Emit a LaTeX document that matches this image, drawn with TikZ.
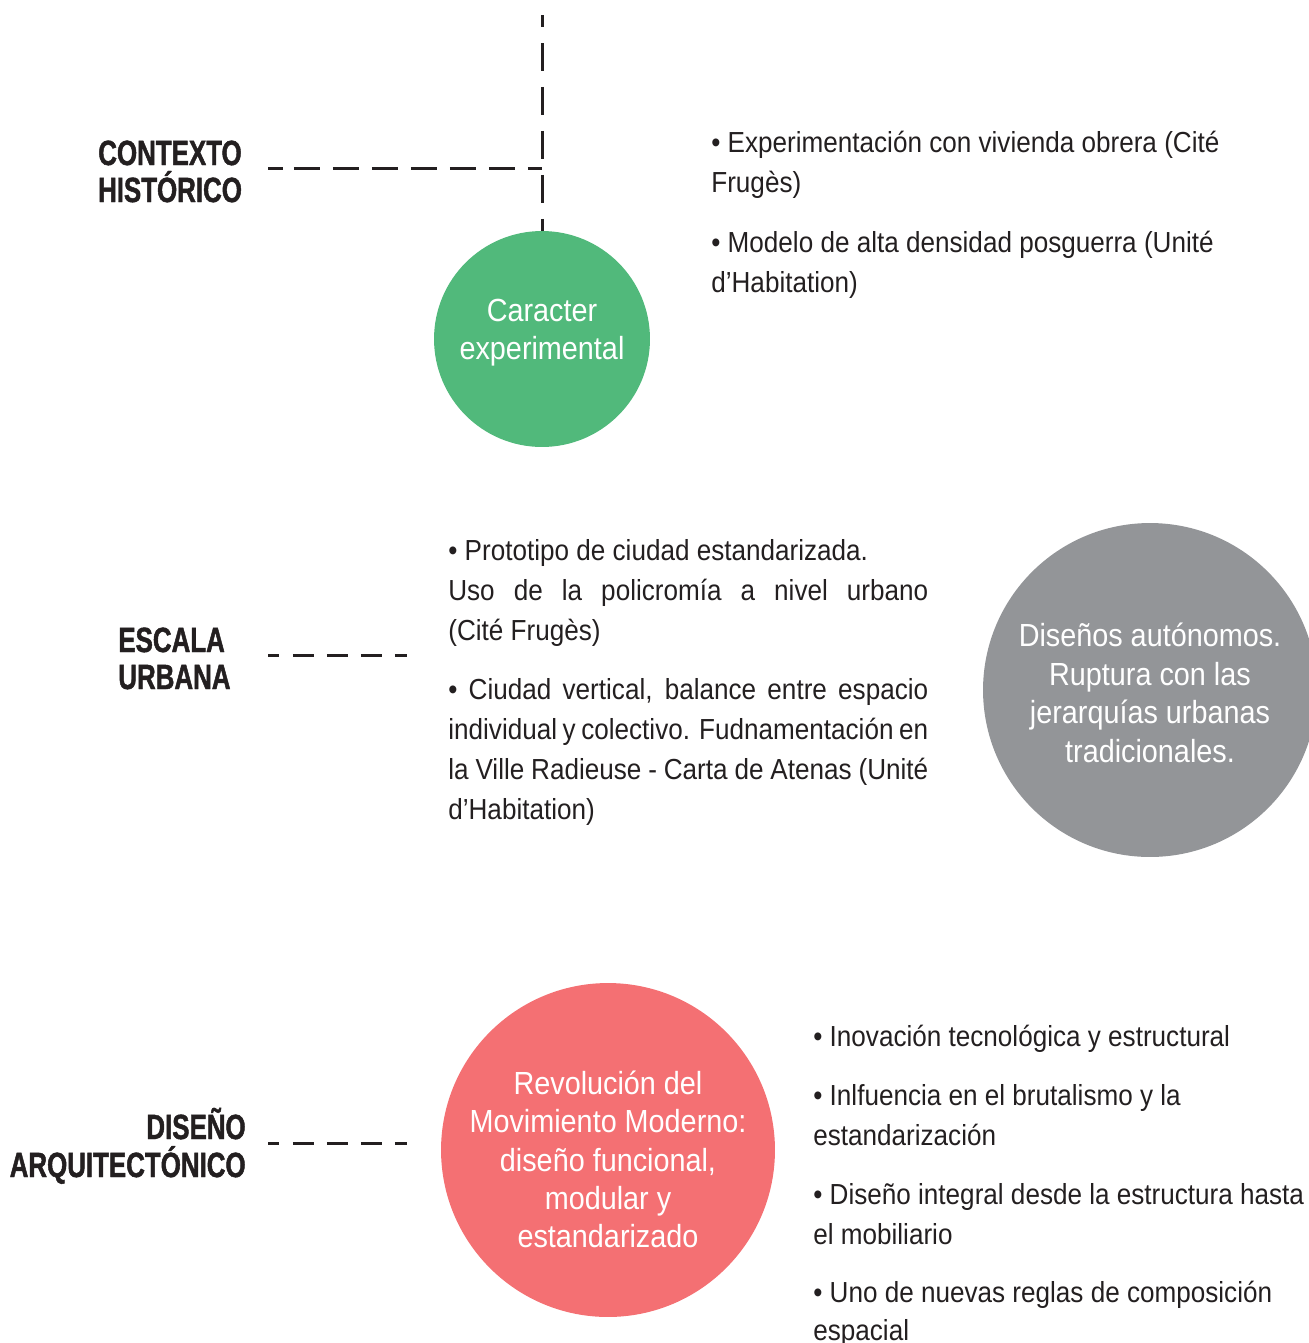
\documentclass[tikz,border=0pt]{standalone}
\usepackage{fontspec}
\setmainfont{Liberation Sans}[FakeStretch=0.9]
\newfontfamily\labfont{Liberation Sans}[FakeStretch=0.74,BoldFeatures={FakeBold=1.3}]
\definecolor{ink}{HTML}{231F20}
\definecolor{cgreen}{HTML}{51B97B}
\definecolor{cgray}{HTML}{939598}
\definecolor{cred}{HTML}{F47073}
\begin{document}
\begin{tikzpicture}[x=0.02cm,y=-0.02cm,
  body/.style={anchor=base west,inner sep=0,font=\fontsize{0.58cm}{0.8cm}\selectfont,text=ink},
  lab/.style={anchor=base,inner sep=0,font=\labfont\bfseries\fontsize{0.70cm}{0.76cm}\selectfont,text=ink},
  ctext/.style={anchor=base,inner sep=0,font=\fontsize{0.64cm}{0.77cm}\selectfont,text=white},
  bubble/.style={circle,inner sep=0,draw=none},
  dashv/.style={line width=0.06cm,draw=ink,dash pattern=on 0.24cm off 0.32cm on 0.56cm off 0.32cm on 0.56cm off 0.32cm on 0.56cm off 0.32cm on 0.56cm off 0.32cm on 0.56cm off 0.32cm},
  dashh/.style={line width=0.06cm,draw=ink,dash pattern=on 0.3cm off 0.22cm on 0.52cm off 0.26cm on 0.52cm off 0.26cm on 0.52cm off 0.26cm on 0.52cm off 0.26cm on 0.52cm off 0.26cm on 0.52cm off 0.26cm on 0.52cm off 0.26cm},
  dashs/.style={line width=0.06cm,draw=ink,dash pattern=on 0.22cm off 0.28cm on 0.42cm off 0.26cm on 0.42cm off 0.26cm on 0.42cm off 0.26cm on 0.42cm off 0.26cm}]
\useasboundingbox (0,0) rectangle (1309,1343);
\clip (0,0) rectangle (1309,1343);

% circles
\node[bubble,fill=cgreen,minimum size=4.32cm] (green) at (542,339) {};
\node[bubble,fill=cgray,minimum size=6.68cm] (gray) at (1150,690) {};
\node[bubble,fill=cred,minimum size=6.68cm] (red) at (608,1150) {};

% circle texts
\node[ctext] (g1) at (542,321) {Caracter};
\node[ctext] (g2) at (542,359) {experimental};
\node[ctext] (k1) at (1150,646) {Diseños autónomos.};
\node[ctext] (k2) at (1150,685) {Ruptura con las};
\node[ctext] (k3) at (1150,723) {jerarquías urbanas};
\node[ctext] (k4) at (1150,762) {tradicionales.};
\node[ctext] (r1) at (608,1094) {Revolución del};
\node[ctext] (r2) at (608,1132) {Movimiento Moderno:};
\node[ctext] (r3) at (608,1171) {diseño funcional,};
\node[ctext] (r4) at (608,1209) {modular y};
\node[ctext] (r5) at (608,1247) {estandarizado};

% labels
\node[lab] (ctxA) at (170,165) {CONTEXTO};
\node[lab] (ctxB) at (170,202) {HISTÓRICO};
\node[lab,anchor=base west] (escA) at (118,652) {ESCALA};
\node[lab,anchor=base west] (escB) at (118,689) {URBANA};
\node[lab,anchor=base east] (disA) at (246,1139) {DISEÑO};
\node[lab,anchor=base east] (disB) at (246,1177) {ARQUITECTÓNICO};

% connectors
\coordinate (top) at (542,15);
\coordinate (junc) at (542,168);
\coordinate (ctxL) at (268,168);
\coordinate (escL) at (268,655);
\coordinate (escR) at (407,655);
\coordinate (disL) at (268,1143);
\coordinate (disR) at (407,1143);
\draw[dashv] (top) -- (green.north);
\draw[dashh] (ctxL) -- (junc);
\draw[dashs] (escL) -- (escR);
\draw[dashs] (disL) -- (disR);

% top right text
\node[body] (a1) at (711,152) {• Experimentación con vivienda obrera (Cité};
\node[body] (a2) at (711,192) {Frugès)};
\node[body] (a3) at (711,252) {• Modelo de alta densidad posguerra (Unité};
\node[body] (a4) at (711,292) {d’Habitation)};

% middle text
\node[body] (b1) at (448,560) {• Prototipo de ciudad estandarizada.};
\node[body] (b2) at (448,600) {\makebox[9.6cm][s]{Uso de la policromía a nivel urbano}};
\node[body] (b3) at (448,640) {(Cité Frugès)};
\node[body] (b4) at (448,699) {\makebox[9.6cm][s]{• Ciudad vertical, balance entre espacio}};
\node[body] (b5) at (448,739) {\makebox[9.6cm][s]{individual y colectivo. Fudnamentación en}};
\node[body] (b6) at (448,779) {\makebox[9.6cm][s]{la Ville Radieuse - Carta de Atenas (Unité}};
\node[body] (b7) at (448,819) {d’Habitation)};

% bottom right text
\node[body] (c1) at (813,1046) {• Inovación tecnológica y estructural};
\node[body] (c2) at (813,1105) {• Inlfuencia en el brutalismo y la};
\node[body] (c3) at (813,1145) {estandarización};
\node[body] (c4) at (813,1204) {• Diseño integral desde la estructura hasta};
\node[body] (c5) at (813,1244) {el mobiliario};
\node[body] (c6) at (813,1302) {• Uno de nuevas reglas de composición};
\node[body] (c7) at (813,1340) {espacial};
\end{tikzpicture}
\end{document}
